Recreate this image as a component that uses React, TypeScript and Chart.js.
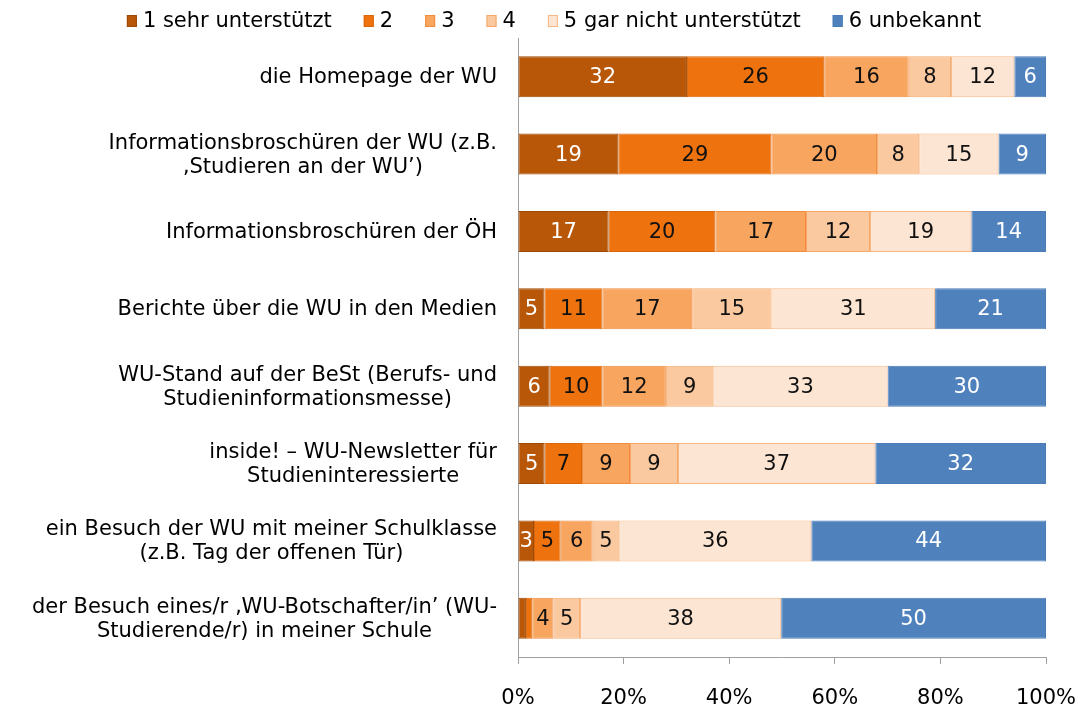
import React, { useEffect, useRef } from "react";
import { Chart, registerables } from "chart.js";

Chart.register(...registerables);

const categories: string[][] = [
  ["die Homepage der WU"],
  ["Informationsbroschüren der WU (z.B.", "‚Studieren an der WU’)"],
  ["Informationsbroschüren der ÖH"],
  ["Berichte über die WU in den Medien"],
  ["WU-Stand auf der BeSt (Berufs- und", "Studieninformationsmesse)"],
  ["inside! – WU-Newsletter für", "Studieninteressierte"],
  ["ein Besuch der WU mit meiner Schulklasse", "(z.B. Tag der offenen Tür)"],
  ["der Besuch eines/r ‚WU-Botschafter/in’ (WU-", "Studierende/r) in meiner Schule"],
];

const seriesNames: string[] = [
  "1 sehr unterstützt",
  "2",
  "3",
  "4",
  "5 gar nicht unterstützt",
  "6 unbekannt",
];

const s1: number[] = [32, 19, 17, 5, 6, 5, 3, 1.5];
const s2: number[] = [26, 29, 20, 11, 10, 7, 5, 1.2];
const s3: number[] = [16, 20, 17, 17, 12, 9, 6, 4];
const s4: number[] = [8, 8, 12, 15, 9, 9, 5, 5];
const s5: number[] = [12, 15, 19, 31, 33, 37, 36, 38];
const s6: number[] = [6, 9, 14, 21, 30, 32, 44, 50];

const xTicks: number[] = [0, 20, 40, 60, 80, 100];

const fills = ["#B85708", "#EE730E", "#F8A55F", "#FAC9A0", "#FDE5D3", "#4F81BD"];
const borders = ["#9C4A07", "#D9660A", "#F08C3C", "#F5A868", "#F8B784", "#4A7DB8"];
const labelColors = ["#FFFFFF", "#111111", "#111111", "#111111", "#111111", "#FFFFFF"];

const FONT = "'DejaVu Sans', Verdana, sans-serif";
const FS = 21;

const allSeries = [s1, s2, s3, s4, s5, s6];
const rowSums = categories.map((_, i) => allSeries.reduce((a, s) => a + s[i], 0));

const valueLabels = {
  id: "valueLabels",
  afterDatasetsDraw(chart: any) {
    const ctx = chart.ctx;
    ctx.save();
    ctx.font = `${FS}px ${FONT}`;
    ctx.textAlign = "center";
    ctx.textBaseline = "middle";
    chart.data.datasets.forEach((ds: any, di: number) => {
      const meta = chart.getDatasetMeta(di);
      meta.data.forEach((bar: any, i: number) => {
        const raw = allSeries[di][i];
        if (raw < 2) return;
        const cx = (bar.x + bar.base) / 2;
        ctx.fillStyle = labelColors[di];
        ctx.fillText(String(Math.round(raw)), cx, bar.y + 1);
      });
    });
    ctx.restore();
  },
};

const categoryLabels = {
  id: "categoryLabels",
  afterDraw(chart: any) {
    const ctx = chart.ctx;
    const yScale = chart.scales.y;
    const lh = 24;
    ctx.save();
    ctx.font = `${FS}px ${FONT}`;
    ctx.fillStyle = "#000000";
    ctx.textAlign = "center";
    ctx.textBaseline = "middle";
    categories.forEach((lines, i) => {
      const y = yScale.getPixelForValue(i);
      const w = Math.max(...lines.map((l) => ctx.measureText(l).width));
      const right = yScale.right - 21;
      const cx = right - w / 2;
      lines.forEach((l, j) => {
        ctx.fillText(l, cx, y + (j - (lines.length - 1) / 2) * lh + 1);
      });
    });
    ctx.restore();
  },
};

const topLegend = {
  id: "topLegend",
  afterDraw(chart: any) {
    const ctx = chart.ctx;
    ctx.save();
    ctx.font = `${FS}px ${FONT}`;
    ctx.textBaseline = "middle";
    ctx.textAlign = "left";
    const boxW = 10;
    const boxH = 12;
    const gapBox = 6;
    const gapItem = 32;
    const widths = seriesNames.map((n) => boxW + gapBox + ctx.measureText(n).width);
    const total = widths.reduce((a, b) => a + b, 0) + gapItem * (widths.length - 1);
    let x = 554 - total / 2;
    const cy = 21;
    seriesNames.forEach((n, i) => {
      ctx.fillStyle = fills[i];
      ctx.fillRect(x, cy - boxH / 2, boxW, boxH);
      ctx.strokeStyle = borders[i];
      ctx.lineWidth = 1;
      ctx.strokeRect(x + 0.5, cy - boxH / 2 + 0.5, boxW - 1, boxH - 1);
      ctx.fillStyle = "#000000";
      ctx.fillText(n, x + boxW + gapBox, cy + 1);
      x += widths[i] + gapItem;
    });
    ctx.restore();
  },
};

export default function App() {
  const ref = useRef<HTMLCanvasElement | null>(null);
  useEffect(() => {
    if (!ref.current) return;
    const chart = new Chart(ref.current, {
      type: "bar",
      data: {
        labels: categories.map((c) => c.join(" ")),
        datasets: allSeries.map((s, di) => ({
          label: seriesNames[di],
          data: s.map((v, i) => (v / rowSums[i]) * 100),
          backgroundColor: fills[di],
          borderColor: borders[di],
          borderWidth: 1,
          borderSkipped: false,
          barPercentage: 0.53,
          categoryPercentage: 1,
        })),
      },
      options: {
        indexAxis: "y",
        animation: false,
        responsive: true,
        maintainAspectRatio: false,
        layout: { padding: { top: 38, right: 34, left: 0, bottom: 0 } },
        plugins: {
          legend: { display: false },
          tooltip: { enabled: false },
        },
        scales: {
          x: {
            stacked: true,
            min: 0,
            max: 100,
            afterBuildTicks: (scale: any) => {
              scale.ticks = xTicks.map((v) => ({ value: v }));
            },
            afterFit: (scale: any) => {
              scale.height = 47;
              scale.paddingLeft = 0;
              scale.paddingRight = 0;
            },
            ticks: {
              callback: (v: any) => `${v}%`,
              font: { family: FONT, size: FS },
              color: "#000000",
              padding: 22,
              maxRotation: 0,
              autoSkip: false,
            },
            grid: {
              drawOnChartArea: false,
              tickLength: 7,
              color: "#A0A0A0",
            },
            border: { display: true, color: "#A0A0A0", width: 1 },
          },
          y: {
            stacked: true,
            ticks: { display: false },
            grid: { display: false },
            border: { display: true, color: "#A0A0A0", width: 1 },
            afterFit: (scale: any) => {
              scale.width = 518;
            },
          },
        },
      },
      plugins: [valueLabels, categoryLabels, topLegend],
    });
    return () => chart.destroy();
  }, []);
  return (
    <div style={{ position: "fixed", left: 0, top: 0, width: 1080, height: 704, background: "#ffffff" }}>
      <canvas ref={ref} />
    </div>
  );
}
